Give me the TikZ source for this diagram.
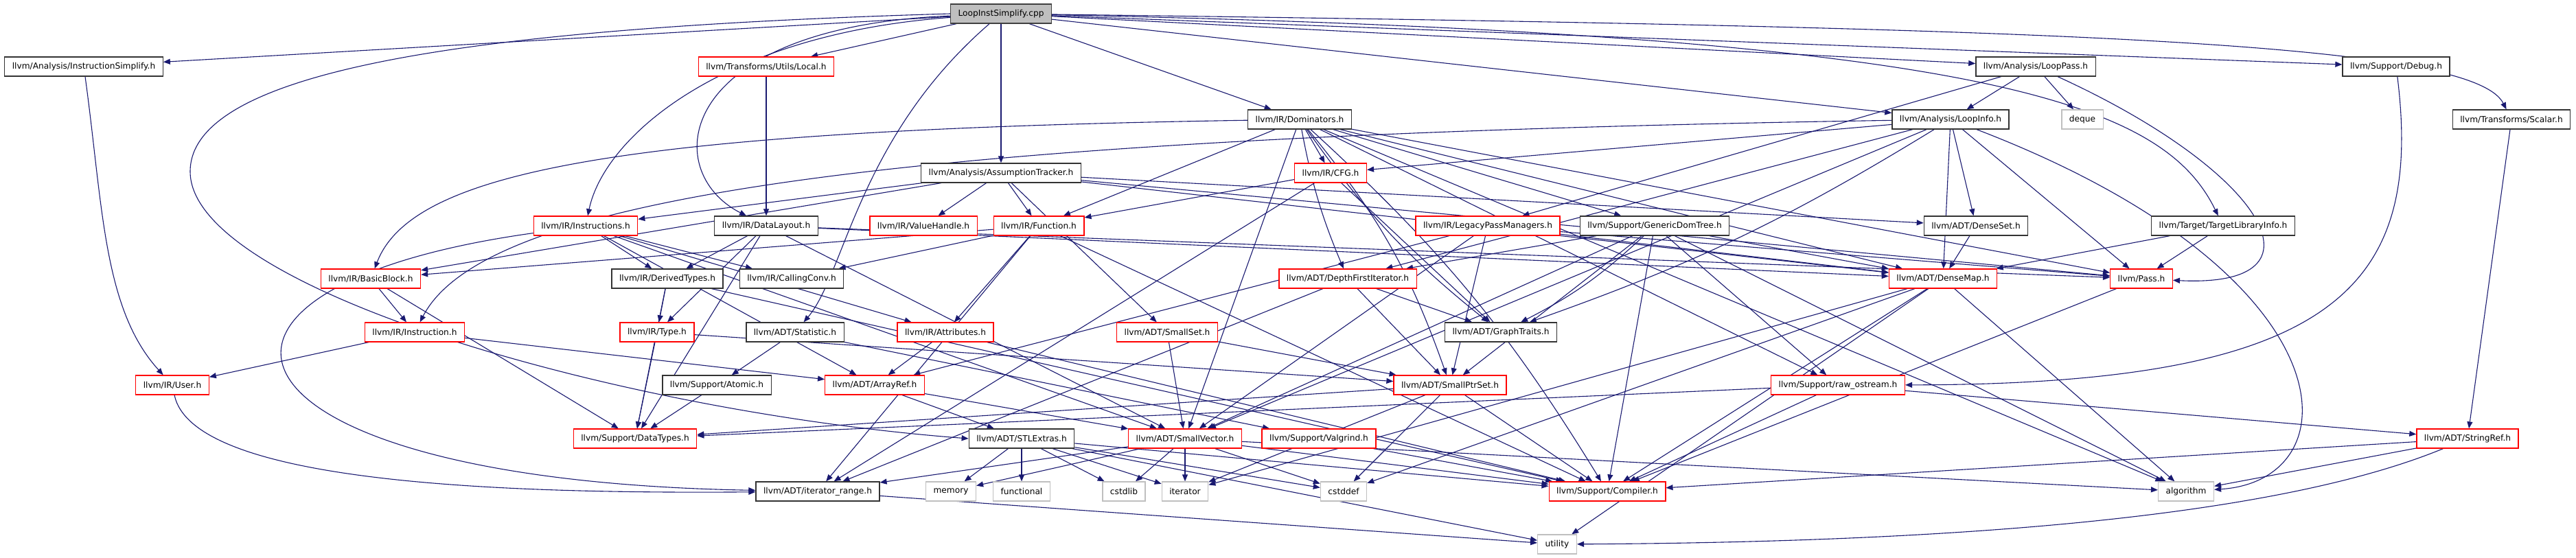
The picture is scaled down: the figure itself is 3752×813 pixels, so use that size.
\documentclass[tikz,border=0pt]{standalone}
\usepackage{fontspec}
\setmainfont{DejaVu Sans}
\usetikzlibrary{arrows.meta}
\pgfdeclarelayer{bg}
\pgfsetlayers{bg,main}
\definecolor{edgec}{HTML}{191970}
\definecolor{sysc}{HTML}{BFBFBF}
\definecolor{truncc}{HTML}{FF0000}
\begin{document}
\begin{tikzpicture}[x=1pt,y=-1pt,
  box/.style={draw, rectangle, minimum height=28pt, inner xsep=11pt, inner ysep=0pt,
    font=\fontsize{12.2}{14}\selectfont, line width=1.3pt, fill=white},
  full/.style={box, draw=black!80},
  trunc/.style={box, draw=truncc},
  sysh/.style={box, draw=sysc},
  rootn/.style={box, draw=black!75, fill=sysc},
  edge/.style={draw=edgec, line width=1.1pt, -{Triangle[length=10pt,width=8pt]}}
]
\useasboundingbox (0,0) rectangle (3752,813);
% row 0
\node[rootn] (root) at (1458,20) {LoopInstSimplify.cpp};
% row 1
\node[full] (isimp) at (122,97) {llvm/Analysis/InstructionSimplify.h};
\node[trunc] (local) at (1116,97) {llvm/Transforms/Utils/Local.h};
\node[full] (looppass) at (2965,97) {llvm/Analysis/LoopPass.h};
\node[full] (debug) at (3490,97) {llvm/Support/Debug.h};
% row 2
\node[full] (dom) at (1893,174) {llvm/IR/Dominators.h};
\node[full] (loopinfo) at (2841,174) {llvm/Analysis/LoopInfo.h};
\node[sysh] (deque) at (3033,174) {deque};
\node[full] (scalar) at (3658,174) {llvm/Transforms/Scalar.h};
% row 3
\node[full] (at) at (1458,252) {llvm/Analysis/AssumptionTracker.h};
\node[trunc] (cfg) at (1938,252) {llvm/IR/CFG.h};
% row 4
\node[trunc] (instrs) at (853,329) {llvm/IR/Instructions.h};
\node[full] (dl) at (1116,329) {llvm/IR/DataLayout.h};
\node[trunc] (vh) at (1345,329) {llvm/IR/ValueHandle.h};
\node[trunc] (func) at (1513,329) {llvm/IR/Function.h};
\node[trunc] (lpm) at (2167,329) {llvm/IR/LegacyPassManagers.h};
\node[full] (gdt) at (2410,329) {llvm/Support/GenericDomTree.h};
\node[full] (dset) at (2878,329) {llvm/ADT/DenseSet.h};
\node[full] (tli) at (3238,329) {llvm/Target/TargetLibraryInfo.h};
% row 5
\node[trunc] (bb) at (540,406) {llvm/IR/BasicBlock.h};
\node[full] (dt) at (972,406) {llvm/IR/DerivedTypes.h};
\node[full] (cc) at (1153,406) {llvm/IR/CallingConv.h};
\node[trunc] (dfi) at (1963,406) {llvm/ADT/DepthFirstIterator.h};
\node[trunc] (dmap) at (2830,406) {llvm/ADT/DenseMap.h};
\node[trunc] (pass) at (3119,406) {llvm/Pass.h};
% row 6
\node[trunc] (instr) at (604,484) {llvm/IR/Instruction.h};
\node[trunc] (type) at (957,484) {llvm/IR/Type.h};
\node[full] (stat) at (1158,484) {llvm/ADT/Statistic.h};
\node[trunc] (attr) at (1377,484) {llvm/IR/Attributes.h};
\node[trunc] (sset) at (1700,484) {llvm/ADT/SmallSet.h};
\node[full] (gt) at (2186,484) {llvm/ADT/GraphTraits.h};
% row 7
\node[trunc] (user) at (251,561) {llvm/IR/User.h};
\node[full] (atomic) at (1044,561) {llvm/Support/Atomic.h};
\node[trunc] (aref) at (1274,561) {llvm/ADT/ArrayRef.h};
\node[trunc] (sps) at (2112,561) {llvm/ADT/SmallPtrSet.h};
\node[trunc] (ros) at (2677,561) {llvm/Support/raw\_ostream.h};
% row 8
\node[trunc] (dtypes) at (925,639) {llvm/Support/DataTypes.h};
\node[full] (stl) at (1488,639) {llvm/ADT/STLExtras.h};
\node[trunc] (svec) at (1726,639) {llvm/ADT/SmallVector.h};
\node[trunc] (valg) at (1921,639) {llvm/Support/Valgrind.h};
\node[trunc] (sref) at (3594,639) {llvm/ADT/StringRef.h};
% row 9
\node[full] (irange) at (1191,716) {llvm/ADT/iterator\_range.h};
\node[sysh] (memory) at (1385,716) {memory};
\node[sysh] (functional) at (1488,716) {functional};
\node[sysh] (cstdlib) at (1637,716) {cstdlib};
\node[sysh] (iterator) at (1726,716) {iterator};
\node[sysh] (cstddef) at (1957,716) {cstddef};
\node[trunc] (compiler) at (2341,716) {llvm/Support/Compiler.h};
\node[sysh] (algorithm) at (3184,716) {algorithm};
% row 10
\node[sysh] (utility) at (2268,793) {utility};
\coordinate (stlbend) at (277,250);

\begin{pgfonlayer}{bg}
% curved routes
\draw[edge] (root.west) .. controls (700,40) and (277,100) .. (stlbend)
  .. controls (277,420) and (900,600) .. (stl.west);
\draw[edge] (root) .. controls (1050,50) and (880,200) .. (instrs);
\draw[edge] (root) .. controls (980,40) and (960,250) .. (dl);
\draw[edge] (root) .. controls (1250,200) and (1230,400) .. (stat);
\draw[edge] (root) .. controls (3000,40) and (3600,60) .. (scalar);
\draw[edge] (root) .. controls (2900,50) and (3150,150) .. (tli);
\draw[edge] (dom) .. controls (900,190) and (600,250) .. (bb);
\draw[edge] (loopinfo) .. controls (1200,200) and (700,300) .. (instr);
\draw[edge] (isimp) .. controls (150,300) and (150,450) .. (user);
\draw[edge] (user) .. controls (280,700) and (700,720) .. (irange);
\draw[edge] (instrs) .. controls (200,420) and (300,700) .. (irange);
\draw[edge] (sref) .. controls (3300,760) and (2800,790) .. (utility);
\draw[edge] (debug) .. controls (3530,420) and (3400,560) .. (ros);
\draw[edge] (looppass) .. controls (3300,250) and (3400,420) .. (pass);
\draw[edge] (loopinfo) .. controls (3430,400) and (3430,700) .. (algorithm);
\draw[edge] (dom) to[bend right=8] (gt);
\draw[edge] (dom) to[bend left=10] (sps);
\draw[edge] (dom) to[bend right=6] (dfi);
\draw[edge] (gdt) to[bend left=8] (gt);
\draw[edge] (loopinfo) to[bend left=6] (gt);
\draw[edge] (dom) to[bend left=8] (compiler);
% straight routes
\foreach \a/\b in {
 root/isimp, root/local, root/at, root/dom, root/loopinfo, root/looppass, root/debug,
 local/dl,
 looppass/loopinfo, looppass/lpm, looppass/deque,
 scalar/sref,
 dom/cfg, dom/func, dom/dmap, dom/svec, dom/pass,
 dom/gdt, dom/ros, dom/algorithm,
 loopinfo/dmap, loopinfo/dset, loopinfo/dfi, loopinfo/svec, loopinfo/cfg,
 loopinfo/pass,
 at/instrs, at/bb, at/func, at/vh, at/sset, at/dmap, at/dset, at/pass,
 cfg/func, cfg/gt, cfg/irange,
 instrs/dt, instrs/cc, instrs/attr, instrs/aref, instrs/svec,
 dl/dt, dl/type, dl/dmap, dl/svec, dl/pass, dl/dtypes,
 func/cc, func/bb, func/attr, func/irange, func/compiler,
 lpm/aref, lpm/dmap, lpm/sps, lpm/svec, lpm/pass,
 gdt/dmap, gdt/dfi, gdt/sps, gdt/svec, gdt/compiler, gdt/ros, gdt/algorithm,
 dset/dmap, tli/dmap, tli/pass,
 bb/instr, bb/dtypes,
 dt/type, dt/compiler, dt/dtypes,
 instr/user, instr/aref,
 type/dtypes, type/sps,
 stat/atomic, stat/valg,
 attr/aref, attr/compiler,
 sset/svec, sset/sps,
 dfi/gt, dfi/sps, dfi/irange,
 dmap/compiler, dmap/cstddef, dmap/iterator, dmap/utility, dmap/algorithm,
 pass/compiler, atomic/dtypes,
 aref/stl, aref/svec,
 sps/compiler, sps/dtypes, sps/cstddef, sps/iterator,
 ros/compiler, ros/dtypes, ros/sref,
 stl/memory, stl/functional, stl/cstdlib, stl/iterator, stl/cstddef, stl/utility, stl/compiler,
 svec/irange, svec/memory, svec/cstdlib, svec/iterator, svec/cstddef, svec/compiler, svec/algorithm,
 valg/compiler,
 sref/algorithm, sref/compiler,
 irange/utility}
 \draw[edge] (\a) -- (\b);
\end{pgfonlayer}
\end{tikzpicture}
\end{document}
